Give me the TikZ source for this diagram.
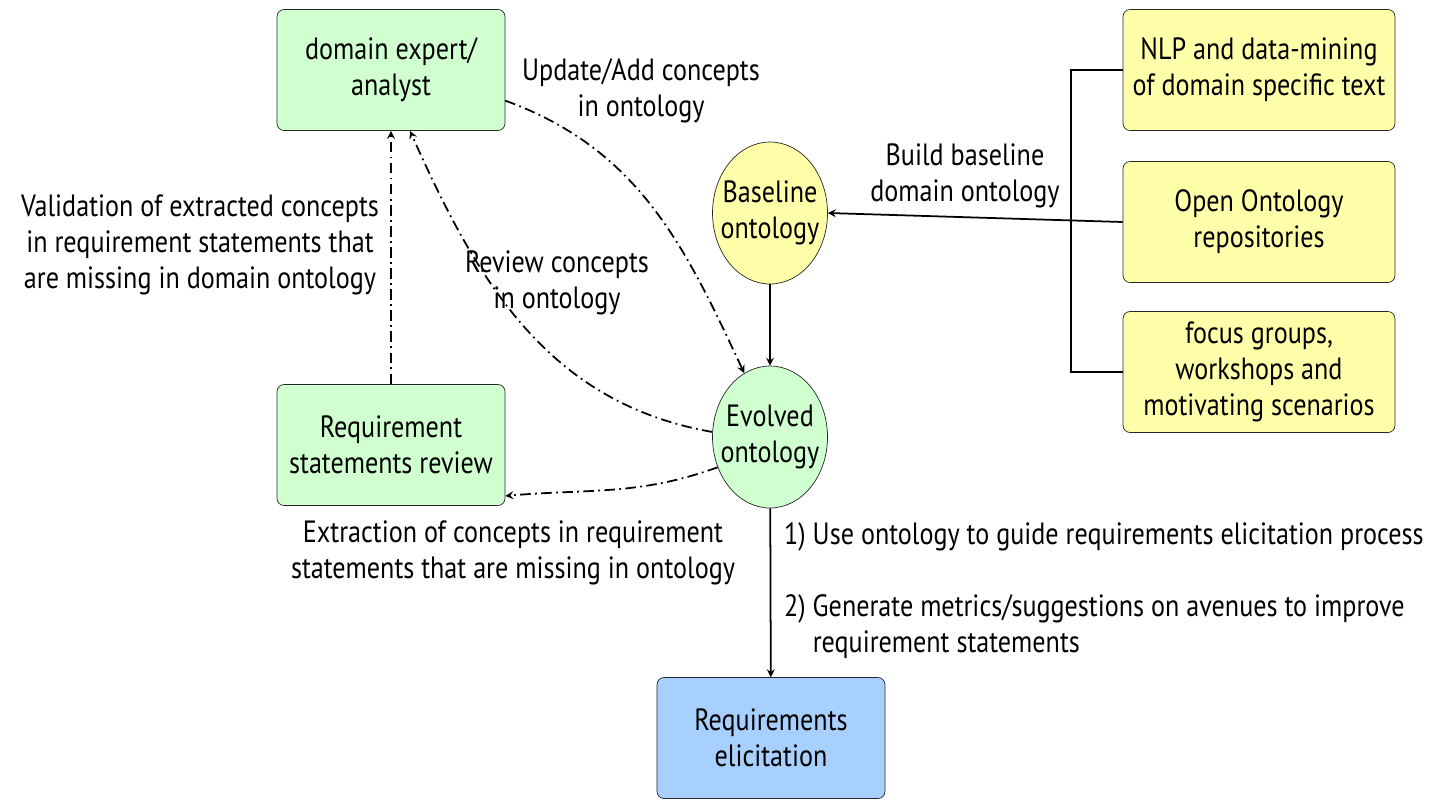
\documentclass[tikz,border=0pt]{standalone}
\usepackage{fontspec}
\setmainfont{PT Sans}[FakeStretch=0.85]
\usetikzlibrary{shapes.geometric, arrows}
\definecolor{actorgreen}{RGB}{208,255,208}
\definecolor{srcyellow}{RGB}{255,255,170}
\definecolor{elicitblue}{RGB}{168,208,255}
\tikzstyle{actor}=
[
	rectangle
	, rounded corners=4pt
	, minimum width=4.56cm
	, minimum height=2.42cm
	, align=center
	, draw=black!85
	, fill=actorgreen
]
\tikzstyle{source}=
[
	actor
	, minimum width=5.44cm
	, fill=srcyellow
]
\tikzstyle{onto}=
[
	ellipse
	, minimum width=2.3cm
	, minimum height=2.84cm
	, inner xsep=-8pt
	, align=center
	, draw=black!85
]
\tikzstyle{lbl}=[align=center]
\tikzstyle{arrow} = [line width=1pt,->,>=stealth]
\tikzstyle{dashdot} = [line width=1pt,->,>=stealth,dash pattern=on 6pt off 2.5pt on 1pt off 2.5pt]
\tikzstyle{line} = [line width=1pt,-]

\begin{document}
\begin{tikzpicture}[x=0.02cm, y=-0.02cm, font=\fontsize{17.5}{20.5}\selectfont]
\useasboundingbox (0,0) rectangle (1439,799);

\node(expert)[actor] at (391,70) {domain expert/\\analyst};
\node(review)[actor] at (391,445) {Requirement\\statements review};
\node(elicit)[actor, fill=elicitblue] at (771,738) {Requirements\\elicitation};
\node(base)[onto, fill=srcyellow] at (770,213) {Baseline\\ontology};
\node(evolved)[onto, fill=actorgreen] at (770,437) {Evolved\\ontology};
\node(nlp)[source] at (1259,70) {NLP and data-mining\\of domain specific text};
\node(open)[source] at (1259,222) {Open Ontology\\repositories};
\node(focus)[source] at (1259,372) {focus groups,\\workshops and\\motivating scenarios};
\coordinate(brk) at (1071,222);

\draw[line](nlp.west) -| (brk) |- (focus.west);
\draw[arrow](open.west)--(base.east);
\draw[arrow](base)--(evolved);
\draw[arrow](evolved)--(elicit);
\draw[dashdot](expert.-15) to[out=-20,in=115] (evolved.112);
\draw[dashdot](evolved.175) to[out=170,in=-66] ([xshift=0.38cm]expert.south);
\draw[dashdot](evolved.210) to[out=200,in=5] (review.-24);
\draw[dashdot](review)--(expert);

\node(lbuild)[lbl] at (965,176) {Build baseline\\domain ontology};
\node(lupdate)[lbl] at (641,91) {Update/Add concepts\\in ontology};
\node(lreview)[lbl] at (557,283) {Review concepts\\in ontology};
\node(lextract)[lbl] at (513,553) {Extraction of concepts in requirement\\statements that are missing in ontology};
\node(lvalid)[lbl] at (200,245) {Validation of extracted concepts\\in requirement statements that\\are missing in domain ontology};
\node(lstep1)[lbl, anchor=west, align=left] at (778,537) {1) Use ontology to guide requirements elicitation process};
\node(lstep2)[lbl, anchor=west, align=left] at (778,627) {2) Generate metrics/suggestions on avenues to improve\\\phantom{2) }requirement statements};

\end{tikzpicture}
\end{document}
